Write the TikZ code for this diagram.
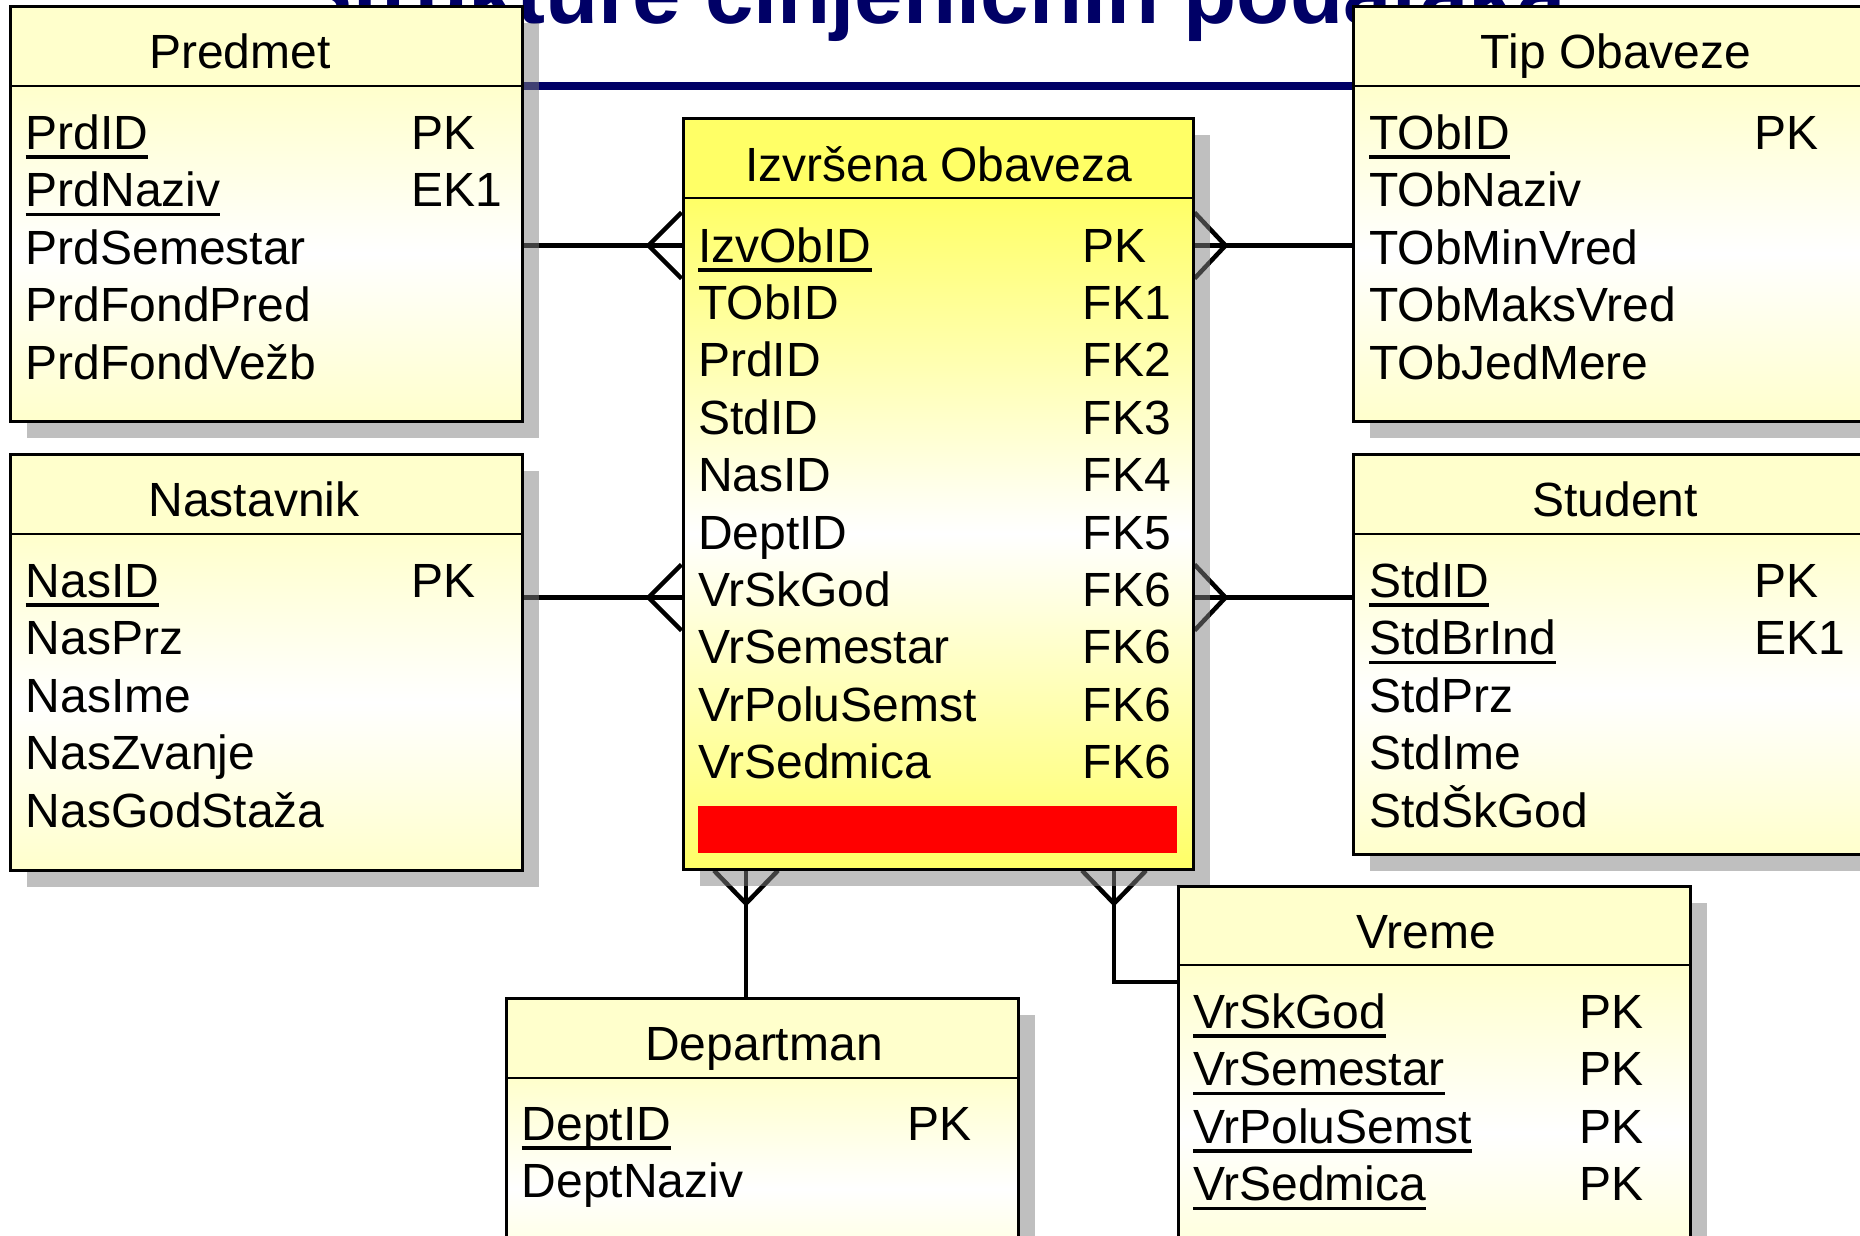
\documentclass[tikz,border=0pt]{standalone}
\usepackage{fontspec}
\setmainfont{Liberation Sans}
\usetikzlibrary{fit,calc}
\definecolor{lyel}{HTML}{FFFFCC}
\definecolor{byel}{HTML}{FFFF66}
\definecolor{navyc}{HTML}{000066}
\definecolor{shgray}{RGB}{128,128,128}
\pgfdeclarelayer{bgl}
\pgfdeclarelayer{connl}
\pgfdeclarelayer{shadl}
\pgfsetlayers{bgl,connl,shadl,main}
\newsavebox\klbox
\newcommand\keyline[1]{\sbox\klbox{#1}\rlap{\rule[-9.5pt]{\wd\klbox}{3.5pt}}\usebox\klbox}
% name, x1, y1, x2, y2, yheader, headcolor, edgecolor
\newcommand\ertable[8]{%
  \begin{pgfonlayer}{shadl}
    \fill[shgray, fill opacity=0.5] (#2+17,#3+17) rectangle (#4+17,#5+17);
  \end{pgfonlayer}
  \fill[#7] (#2,#3) rectangle (#4,#6);
  \path[top color=#8, bottom color=#8, middle color=white] (#2,#6) rectangle (#4,#5);
  \draw[line width=2.5pt] (#2,#6) -- (#4,#6);
  \node[draw, line width=3pt, inner sep=0pt, fit={(#2,#3) (#4,#5)}] (#1) {};
}
% name, xattr, xkey, first baseline, pitch, list
\newcommand\errows[6]{%
  \foreach \aname/\kname [count=\i from 0] in {#6} {%
    \node[txt] (#1-a\i) at (#2,#4+#5*\i) {\aname};
    \node[txt] (#1-k\i) at (#3,#4+#5*\i) {\kname};
  }%
}
\begin{document}
\begin{tikzpicture}[x=1pt,y=-1pt,
  txt/.style={font=\fontsize{48}{56}\selectfont, inner sep=0pt, anchor=base west},
  ttl/.style={font=\fontsize{48}{56}\selectfont, inner sep=0pt, anchor=base},
  conn/.style={line width=4.5pt, black, miter limit=10}]
\useasboundingbox (0,0) rectangle (1860,1235);

\begin{pgfonlayer}{bgl}
  \clip (0,0) rectangle (1860,1235);
  \fill[white] (0,0) rectangle (1860,1235);
  \node[anchor=base, inner sep=0pt, text=navyc, font=\bfseries\fontsize{87}{90}\selectfont] (title) at (930,23) {Strukture činjeničnih podataka};
  \draw[navyc, line width=8pt] (20,86) -- (1840,86);
\end{pgfonlayer}

% Predmet
\ertable{pred}{10}{6}{522}{421}{86}{lyel}{lyel}
\node[ttl] (pred-t) at (240,68) {Predmet};
\errows{pred}{25.5}{411}{149}{57.5}{{\keyline{PrdID}}/PK,{\keyline{PrdNaziv}}/EK1,PrdSemestar/{},PrdFondPred/{},PrdFondVežb/{}}

% Nastavnik
\ertable{nas}{10}{454}{522}{870}{534}{lyel}{lyel}
\node[ttl] (nas-t) at (254,516) {Nastavnik};
\errows{nas}{25.5}{411}{597}{57.5}{{\keyline{NasID}}/PK,NasPrz/{},NasIme/{},NasZvanje/{},NasGodStaža/{}}

% Tip Obaveze
\ertable{tip}{1353}{6}{1890}{421}{86}{lyel}{lyel}
\node[ttl] (tip-t) at (1616,68) {Tip Obaveze};
\errows{tip}{1369}{1754.5}{149}{57.5}{{\keyline{TObID}}/PK,TObNaziv/{},TObMinVred/{},TObMaksVred/{},TObJedMere/{}}

% Student
\ertable{std}{1353}{454}{1890}{854}{534}{lyel}{lyel}
\node[ttl] (std-t) at (1615,516) {Student};
\errows{std}{1369}{1754.5}{597}{57.5}{{\keyline{StdID}}/PK,{\keyline{StdBrInd}}/EK1,StdPrz/{},StdIme/{},StdŠkGod/{}}

% Izvrsena Obaveza
\ertable{izv}{683}{118}{1193}{869}{198}{byel}{byel}
\node[ttl] (izv-t) at (939,181) {Izvršena Obaveza};
\errows{izv}{698}{1082.5}{262}{57.4}{{\keyline{IzvObID}}/PK,TObID/FK1,PrdID/FK2,StdID/FK3,NasID/FK4,DeptID/FK5,VrSkGod/FK6,VrSemestar/FK6,VrPoluSemst/FK6,VrSedmica/FK6}
\fill[red] (698,806) rectangle (1177,853);

% Departman
\ertable{dep}{506}{998}{1018}{1300}{1078}{lyel}{lyel}
\node[ttl] (dep-t) at (764,1060) {Departman};
\errows{dep}{521.5}{907}{1140}{57}{{\keyline{DeptID}}/PK,DeptNaziv/{}}

% Vreme
\ertable{vre}{1178}{886}{1690}{1300}{965}{lyel}{lyel}
\node[ttl] (vre-t) at (1426,948) {Vreme};
\errows{vre}{1193}{1579}{1028}{57.6}{{\keyline{VrSkGod}}/PK,{\keyline{VrSemestar}}/PK,{\keyline{VrPoluSemst}}/PK,{\keyline{VrSedmica}}/PK}

% connectors
\begin{pgfonlayer}{connl}
  \coordinate (ya) at (0,245.5);
  \coordinate (yb) at (0,597.5);
  \coordinate (xd) at (746,0);
  \coordinate (xv) at (1114,0);
  \coordinate (yv) at (0,982);
  % Predmet
  \draw[conn] (pred.east |- ya) -- (izv.west |- ya);
  \draw[conn] ($(izv.west |- ya)+(0,-33)$) -- ($(izv.west |- ya)+(-33,0)$) -- ($(izv.west |- ya)+(0,33)$);
  % Nastavnik
  \draw[conn] (nas.east |- yb) -- (izv.west |- yb);
  \draw[conn] ($(izv.west |- yb)+(0,-33)$) -- ($(izv.west |- yb)+(-33,0)$) -- ($(izv.west |- yb)+(0,33)$);
  % Tip Obaveze
  \draw[conn] (izv.east |- ya) -- (tip.west |- ya);
  \draw[conn] ($(izv.east |- ya)+(0,-33)$) -- ($(izv.east |- ya)+(31,0)$) -- ($(izv.east |- ya)+(0,33)$);
  % Student
  \draw[conn] (izv.east |- yb) -- (std.west |- yb);
  \draw[conn] ($(izv.east |- yb)+(0,-33)$) -- ($(izv.east |- yb)+(31,0)$) -- ($(izv.east |- yb)+(0,33)$);
  % Departman
  \draw[conn] (izv.south -| xd) -- (dep.north -| xd);
  \draw[conn] ($(izv.south -| xd)+(-32,0)$) -- ($(izv.south -| xd)+(0,33)$) -- ($(izv.south -| xd)+(32,0)$);
  % Vreme
  \draw[conn] (izv.south -| xv) |- (vre.west |- yv);
  \draw[conn] ($(izv.south -| xv)+(-32,0)$) -- ($(izv.south -| xv)+(0,33)$) -- ($(izv.south -| xv)+(32,0)$);
\end{pgfonlayer}
\end{tikzpicture}
\end{document}
